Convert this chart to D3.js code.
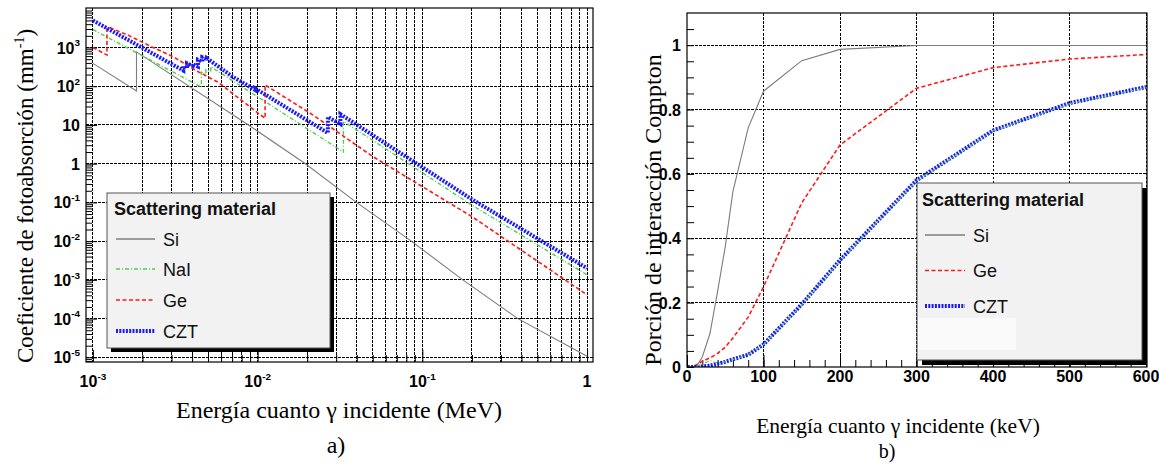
<!DOCTYPE html>
<html><head><meta charset="utf-8">
<script src="https://cdn.jsdelivr.net/npm/d3@7"></script>
<style>body{margin:0;background:#fff}svg{display:block}</style>
</head><body>
<svg id="c" width="1159" height="464"></svg>
<script>
// ---------------- DATA ----------------
// a) photoabsorption coefficient (mm^-1) vs energy (MeV)
const siEnergy  = [1.0e-3, 1.839e-3, 1.839e-3, 8.8e-3, 1.95e-2, 3.98e-2, 8.57e-2, 0.176, 0.38, 1.0];
const siMu      = [390, 75, 770, 10, 1.0, 0.1, 0.01, 1e-3, 1e-4, 1.07e-5];
const naiEnergy = [1.0e-3, 4.557e-3, 4.557e-3, 4.852e-3, 4.852e-3, 5.188e-3, 5.188e-3, 9.25e-3, 3.317e-2, 3.317e-2, 0.2, 1.0];
const naiMu     = [2900, 95, 230, 200, 270, 240, 320, 66, 2.0, 12.5, 0.085, 1.35e-3];
const geEnergy  = [1.0e-3, 1.217e-3, 1.217e-3, 1.27e-3, 1.64e-3, 2.28e-3, 3.08e-3, 4.18e-3, 5.79e-3, 7.67e-3, 1.01e-2, 1.11e-2, 1.11e-2, 2.16e-2, 0.05, 0.2, 1.0];
const geMu      = [1000, 640, 3100, 3250, 2070, 1035, 575, 260, 125, 49, 20, 15, 108, 18.3, 1.53, 0.043, 4.1e-4];
const cztEnergy = [1.0e-3, 3.537e-3, 3.537e-3, 3.727e-3, 3.727e-3, 4.018e-3, 4.018e-3, 4.341e-3, 4.341e-3, 4.612e-3, 4.612e-3, 4.939e-3, 4.939e-3, 7.0e-3, 9.659e-3, 9.659e-3, 2.67e-2, 2.67e-2, 3.18e-2, 3.18e-2, 0.2, 1.0];
const cztMu     = [5000, 255, 330, 290, 390, 340, 370, 320, 480, 430, 560, 500, 520, 180, 80, 88, 6.2, 16, 10.5, 19, 0.12, 2.0e-3];

// b) Compton interaction fraction vs energy (keV)
const comptonEnergy = [1, 5, 10, 15, 20, 30, 40, 50, 60, 80, 100, 150, 200, 300, 400, 500, 600];
const siFrac  = [0, 0, 0.003, 0.012, 0.031, 0.104, 0.235, 0.374, 0.545, 0.743, 0.857, 0.952, 0.987, 0.999, 0.999, 0.999, 0.999];
const geFrac  = [0, 0, 0.002, 0.010, 0.018, 0.028, 0.042, 0.062, 0.090, 0.155, 0.249, 0.510, 0.690, 0.866, 0.930, 0.957, 0.971];
const naiFrac = [0, 0, 0.001, 0.004, 0.008, 0.020, 0.012, 0.016, 0.023, 0.038, 0.070, 0.193, 0.330, 0.578, 0.733, 0.818, 0.868];
const cztFrac = [0, 0, 0.0005, 0.001, 0.002, 0.004, 0.010, 0.016, 0.024, 0.038, 0.070, 0.195, 0.332, 0.580, 0.735, 0.820, 0.870];

// tick labels
const leftXTickValues = [1e-3, 1e-2, 1e-1, 1];
const leftXTickLabels = ["10^-3", "10^-2", "10^-1", "1"];
const leftYTickValues = [1e3, 1e2, 1e1, 1, 1e-1, 1e-2, 1e-3, 1e-4, 1e-5];
const leftYTickLabels = ["10^3", "10^2", "10", "1", "10^-1", "10^-2", "10^-3", "10^-4", "10^-5"];
const rightXTickValues = [0, 100, 200, 300, 400, 500, 600];
const rightXTickLabels = ["0", "100", "200", "300", "400", "500", "600"];
const rightYTickValues = [0, 0.2, 0.4, 0.6, 0.8, 1];
const rightYTickLabels = ["0", "0.2", "0.4", "0.6", "0.8", "1"];

const leftLegendNames  = ["Si", "NaI", "Ge", "CZT"];
const rightLegendNames = ["Si", "Ge", "CZT"];

// ---------------- STYLES ----------------
const styles = {
  Si:  {stroke: "#7c7c7c", width: 1.1, dash: null},
  NaI: {stroke: "#4fcf4f", width: 1.4, dash: "4,2,1,2"},
  Ge:  {stroke: "#ff1a1a", width: 1.6, dash: "4,2.5"},
  CZT: {stroke: "#1a1aff", width: 4,   dash: "2,1.3"}
};
const tickFont = "'Liberation Sans', Arial, sans-serif";
const serif = "'Liberation Serif', 'Times New Roman', serif";

const svg = d3.select("#c");

function applyStyle(sel, name) {
  const s = styles[name];
  sel.attr("fill", "none").attr("stroke", s.stroke).attr("stroke-width", s.width)
     .attr("stroke-dasharray", s.dash);
}

function supLabel(g, str, x, y, anchor, size) {
  const parts = str.split("^");
  const t = g.append("text").attr("x", x).attr("y", y).attr("text-anchor", anchor)
    .attr("font-family", tickFont).attr("font-weight", "bold").attr("font-size", size).attr("fill", "#000");
  t.append("tspan").text(parts[0]);
  if (parts[1] !== undefined) {
    t.append("tspan").attr("dy", -size * 0.45).attr("font-size", size * 0.62).text(parts[1]);
  }
  return t;
}

function drawLegend(g, box, shadow, titleBase, titleX, rows, names, sampleX0, sampleX1, textX, lighter) {
  g.append("rect").attr("x", box.x + shadow).attr("y", box.y + shadow).attr("width", box.w).attr("height", box.h).attr("fill", "#000");
  g.append("rect").attr("x", box.x).attr("y", box.y).attr("width", box.w).attr("height", box.h)
    .attr("fill", "#f2f2f2").attr("stroke", "#555").attr("stroke-width", 1);
  if (lighter) g.append("rect").attr("x", lighter.x).attr("y", lighter.y).attr("width", lighter.w).attr("height", lighter.h).attr("fill", "#fafafa");
  g.append("text").attr("x", titleX).attr("y", titleBase).attr("font-family", tickFont).attr("font-weight", "bold")
    .attr("font-size", 18).attr("fill", "#111").text("Scattering material");
  names.forEach((n, i) => {
    const yy = rows[i];
    g.append("line").attr("x1", sampleX0).attr("x2", sampleX1).attr("y1", yy).attr("y2", yy).call(applyStyle, n)
      .attr("stroke", n === "Si" ? "#444" : styles[n].stroke);
    g.append("text").attr("x", textX).attr("y", yy + 6.5).attr("font-family", tickFont).attr("font-size", 18)
      .attr("fill", "#111").text(n);
  });
}

function gridGroup(g) {
  return g.append("g").attr("stroke", "#000").attr("stroke-width", 1).attr("stroke-dasharray", "2.5,1.5")
    .attr("shape-rendering", "crispEdges");
}

// ================= LEFT PLOT =================
const L = {x0: 86, x1: 593, y0: 8, y1: 362};
const xL = d3.scaleLog().domain([Math.pow(10, -3.042), Math.pow(10, 0.036)]).range([L.x0, L.x1]);
const yL = d3.scaleLog().domain([Math.pow(10, -5.12), Math.pow(10, 4.02)]).range([L.y1, L.y0]);

const gL = svg.append("g");
gL.append("clipPath").attr("id", "clipL").append("rect").attr("x", L.x0).attr("y", L.y0).attr("width", L.x1 - L.x0).attr("height", L.y1 - L.y0);

const xMinorL = [], yMinorL = [];
[-4, -3, -2, -1, 0].forEach(e => { for (let k = 1; k <= 9; k++) { const v = k * Math.pow(10, e); if (v >= xL.domain()[0] && v <= xL.domain()[1]) xMinorL.push(v); } });
[-6, -5, -4, -3, -2, -1, 0, 1, 2, 3].forEach(e => { for (let k = 1; k <= 9; k++) { const v = k * Math.pow(10, e); if (v >= yL.domain()[0] && v <= yL.domain()[1]) yMinorL.push(v); } });

// grid
const gridL = gridGroup(gL);
xMinorL.forEach(v => gridL.append("line").attr("x1", xL(v)).attr("x2", xL(v)).attr("y1", L.y0).attr("y2", L.y1));
leftYTickValues.forEach(v => gridL.append("line").attr("x1", L.x0).attr("x2", L.x1).attr("y1", yL(v)).attr("y2", yL(v)));

// axes ticks (inward)
gL.append("g").attr("transform", `translate(0,${L.y1})`)
  .call(d3.axisBottom(xL).tickValues(xMinorL.filter(v => !leftXTickValues.includes(v))).tickSize(-7).tickFormat(""))
  .call(g => g.select(".domain").remove());
gL.append("g").attr("transform", `translate(0,${L.y1})`)
  .call(d3.axisBottom(xL).tickValues(leftXTickValues).tickSize(-12).tickFormat(""))
  .call(g => g.select(".domain").remove());
gL.append("g").attr("transform", `translate(${L.x0},0)`)
  .call(d3.axisLeft(yL).tickValues(yMinorL.filter(v => !leftYTickValues.includes(v))).tickSize(-6).tickFormat(""))
  .call(g => g.select(".domain").remove());
gL.append("g").attr("transform", `translate(${L.x0},0)`)
  .call(d3.axisLeft(yL).tickValues(leftYTickValues).tickSize(-11).tickFormat(""))
  .call(g => g.select(".domain").remove());

// curves
const lineL = d3.line().x(d => xL(d[0])).y(d => yL(d[1]));
const curvesL = gL.append("g").attr("clip-path", "url(#clipL)");
curvesL.append("path").attr("d", lineL(d3.zip(siEnergy, siMu))).call(applyStyle, "Si");
curvesL.append("path").attr("d", lineL(d3.zip(naiEnergy, naiMu))).call(applyStyle, "NaI");
curvesL.append("path").attr("d", lineL(d3.zip(geEnergy, geMu))).call(applyStyle, "Ge");
curvesL.append("path").attr("d", lineL(d3.zip(cztEnergy, cztMu))).call(applyStyle, "CZT");

// frame
gL.append("rect").attr("x", L.x0).attr("y", L.y0).attr("width", L.x1 - L.x0).attr("height", L.y1 - L.y0)
  .attr("fill", "none").attr("stroke", "#000").attr("stroke-width", 1.2);

// tick labels
leftXTickValues.forEach((v, i) => supLabel(gL, leftXTickLabels[i], xL(v), 387, "middle", 16));
leftYTickValues.forEach((v, i) => supLabel(gL, leftYTickLabels[i], 80, yL(v) + 6, "end", 16));

// titles
gL.append("text").attr("transform", "translate(33,196) rotate(-90)").attr("text-anchor", "middle")
  .attr("font-family", serif).attr("font-size", 23).attr("fill", "#000")
  .call(t => { t.append("tspan").text("Coeficiente de fotoabsorción (mm");
               t.append("tspan").attr("dy", -9).attr("font-size", 14).text("-1");
               t.append("tspan").attr("dy", 9).text(")"); });
gL.append("text").attr("x", 339).attr("y", 418).attr("text-anchor", "middle").attr("font-family", serif)
  .attr("font-size", 24).attr("fill", "#000").text("Energía cuanto γ incidente (MeV)");
gL.append("text").attr("x", 336).attr("y", 453).attr("text-anchor", "middle").attr("font-family", serif)
  .attr("font-size", 24).attr("fill", "#000").text("a)");

drawLegend(gL, {x: 107, y: 193, w: 223, h: 155}, 4, 215, 114, [239, 269, 300, 331], leftLegendNames, 116, 155, 163, null);

// ================= RIGHT PLOT =================
const R = {x0: 687, x1: 1147, y0: 13, y1: 367};
const xR = d3.scaleLinear().domain([0, 600]).range([687, 1146]);
const yR = d3.scaleLinear().domain([0, 1.1]).range([R.y1, R.y0]);
const gR = svg.append("g");
gR.append("clipPath").attr("id", "clipR").append("rect").attr("x", R.x0).attr("y", R.y0).attr("width", R.x1 - R.x0).attr("height", R.y1 - R.y0);

const gridR = gridGroup(gR);
rightXTickValues.slice(1).forEach(v => gridR.append("line").attr("x1", xR(v)).attr("x2", xR(v)).attr("y1", R.y0).attr("y2", R.y1));
rightYTickValues.slice(1).forEach(v => gridR.append("line").attr("x1", R.x0).attr("x2", R.x1).attr("y1", yR(v)).attr("y2", yR(v)));

gR.append("g").attr("transform", `translate(0,${R.y1})`)
  .call(d3.axisBottom(xR).tickValues(d3.range(0, 601, 20)).tickSize(-7).tickFormat(""))
  .call(g => g.select(".domain").remove());
gR.append("g").attr("transform", `translate(0,${R.y1})`)
  .call(d3.axisBottom(xR).tickValues(rightXTickValues).tickSize(-12).tickFormat(""))
  .call(g => g.select(".domain").remove());
gR.append("g").attr("transform", `translate(${R.x0},0)`)
  .call(d3.axisLeft(yR).tickValues(d3.range(0, 1.1, 0.05)).tickSize(-7).tickFormat(""))
  .call(g => g.select(".domain").remove());

const lineR = d3.line().x(d => xR(d[0])).y(d => yR(d[1]));
const curvesR = gR.append("g").attr("clip-path", "url(#clipR)");
curvesR.append("path").attr("d", lineR(d3.zip(comptonEnergy, siFrac))).call(applyStyle, "Si");
curvesR.append("path").attr("d", lineR(d3.zip(comptonEnergy, geFrac))).call(applyStyle, "Ge");
curvesR.append("path").attr("d", lineR(d3.zip(comptonEnergy, cztFrac))).call(applyStyle, "CZT");
curvesR.append("path").attr("d", lineR(d3.zip(comptonEnergy, naiFrac))).call(applyStyle, "NaI").attr("stroke-width", 1.1);

gR.append("rect").attr("x", R.x0).attr("y", R.y0).attr("width", R.x1 - R.x0).attr("height", R.y1 - R.y0)
  .attr("fill", "none").attr("stroke", "#000").attr("stroke-width", 1.2);

rightXTickValues.forEach((v, i) => supLabel(gR, rightXTickLabels[i], xR(v), 382, "middle", 16));
rightYTickValues.forEach((v, i) => supLabel(gR, rightYTickLabels[i], 681, yR(v) + 6, "end", 16));

gR.append("text").attr("transform", "translate(661,210) rotate(-90)").attr("text-anchor", "middle")
  .attr("font-family", serif).attr("font-size", 24).attr("fill", "#000").text("Porción de interacción Compton");
gR.append("text").attr("x", 898).attr("y", 433).attr("text-anchor", "middle").attr("font-family", serif)
  .attr("font-size", 21.5).attr("fill", "#000").text("Energía cuanto γ incidente (keV)");
gR.append("text").attr("x", 887).attr("y", 458).attr("text-anchor", "middle").attr("font-family", serif)
  .attr("font-size", 20).attr("fill", "#000").text("b)");

drawLegend(gR, {x: 917, y: 183, w: 225, h: 177}, 5, 206, 922, [235, 270.5, 306], rightLegendNames, 925, 965, 973,
  {x: 918, y: 318, w: 98, h: 32});
</script>
</body></html>
